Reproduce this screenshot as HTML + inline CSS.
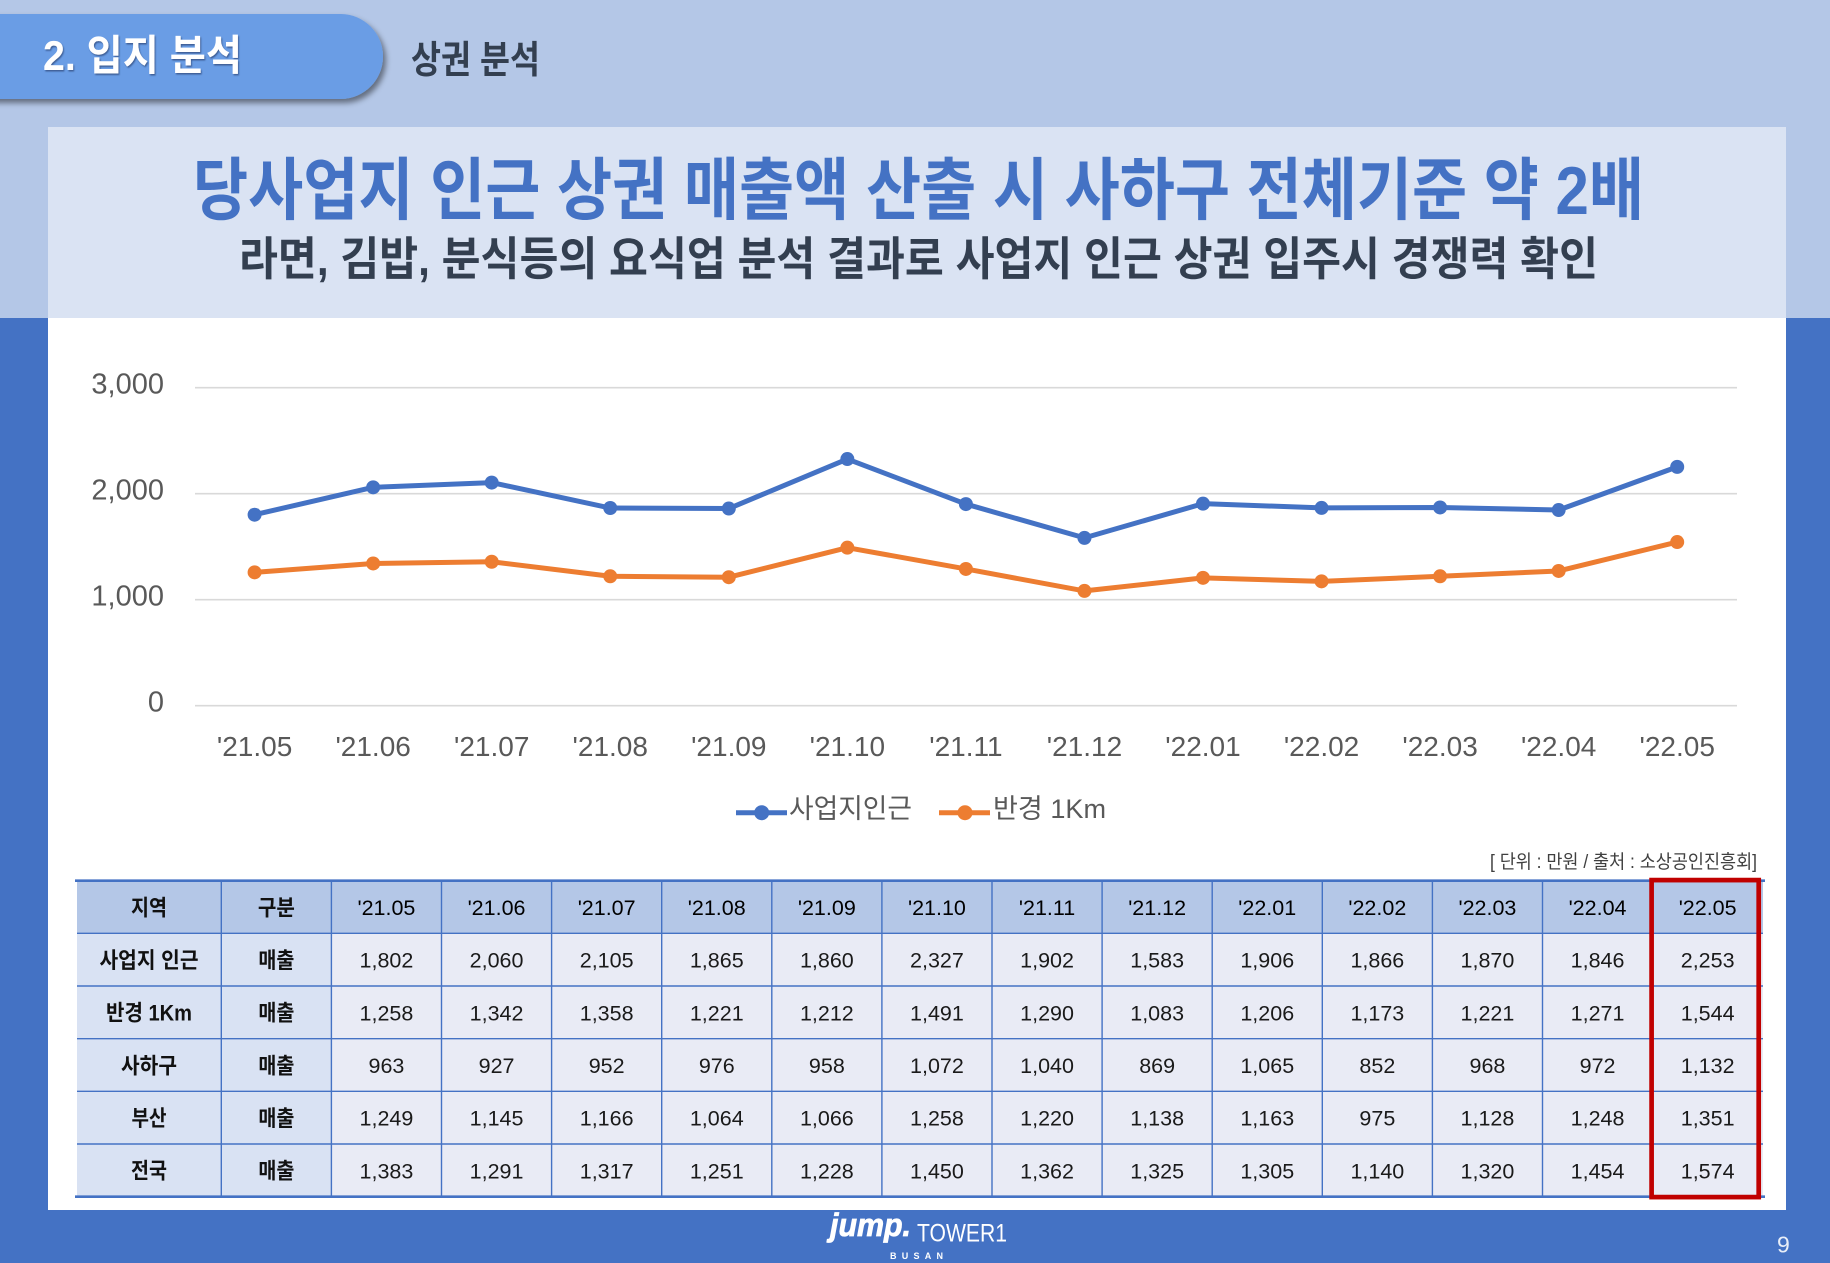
<!DOCTYPE html>
<html>
<head>
<meta charset="utf-8">
<style>
html,body{margin:0;padding:0;background:#4472c4;}
svg{display:block;}
</style>
</head>
<body>
<svg width="1830" height="1263" viewBox="0 0 1830 1263" xmlns="http://www.w3.org/2000/svg">
<defs>
<filter id="sh" x="-10%" y="-20%" width="130%" height="160%">
<feDropShadow dx="3" dy="4" stdDeviation="3" flood-color="#000" flood-opacity="0.45"/>
</filter>
<filter id="tsh" x="-5%" y="-20%" width="110%" height="150%">
<feDropShadow dx="1" dy="1.5" stdDeviation="0.8" flood-color="#203060" flood-opacity="0.6"/>
</filter>
</defs>
<!-- backgrounds -->
<rect x="0" y="0" width="1830" height="318" fill="#b4c7e7"/>
<rect x="0" y="318" width="1830" height="945" fill="#4472c4"/>
<rect x="48" y="127" width="1738" height="191" fill="#dae3f3"/>
<rect x="48" y="318" width="1738" height="892" fill="#ffffff"/>

<!-- pill -->
<path d="M-10 14 H341 A42.5 42.5 0 0 1 383 56.5 A42.5 42.5 0 0 1 341 99 H-10 Z" fill="#6a9de5" filter="url(#sh)"/>
<g font-family="'Liberation Sans','Noto Sans CJK KR',sans-serif" font-weight="bold">
<text x="43" y="70" font-size="42" fill="#ffffff" textLength="199" lengthAdjust="spacingAndGlyphs" filter="url(#tsh)">2. 입지 분석</text>
<text x="411" y="73" font-size="38" fill="#333f50" textLength="129" lengthAdjust="spacingAndGlyphs">상권 분석</text>
<text x="193" y="214" font-size="68" fill="#4472c4" textLength="1451" lengthAdjust="spacingAndGlyphs">당사업지 인근 상권 매출액 산출 시 사하구 전체기준 약 2배</text>
<text x="239" y="275" font-size="46" fill="#333f50" textLength="1359" lengthAdjust="spacingAndGlyphs">라면, 김밥, 분식등의 요식업 분석 결과로 사업지 인근 상권 입주시 경쟁력 확인</text>
</g>

<!-- chart gridlines -->
<g stroke="#d9d9d9" stroke-width="1.7">
<line x1="195" y1="387.7" x2="1737" y2="387.7"/>
<line x1="195" y1="493.7" x2="1737" y2="493.7"/>
<line x1="195" y1="599.7" x2="1737" y2="599.7"/>
<line x1="195" y1="705.7" x2="1737" y2="705.7"/>
</g>
<g font-family="'Liberation Sans',sans-serif" font-size="29" fill="#595959" text-anchor="end">
<text x="164" y="393.5">3,000</text>
<text x="164" y="499.5">2,000</text>
<text x="164" y="605.5">1,000</text>
<text x="164" y="711.5">0</text>
</g>
<g font-family="'Liberation Sans',sans-serif" font-size="28" fill="#595959" text-anchor="middle">
<text x="254.6" y="756">'21.05</text>
<text x="373.15" y="756">'21.06</text>
<text x="491.7" y="756">'21.07</text>
<text x="610.25" y="756">'21.08</text>
<text x="728.8" y="756">'21.09</text>
<text x="847.35" y="756">'21.10</text>
<text x="965.9" y="756">'21.11</text>
<text x="1084.45" y="756">'21.12</text>
<text x="1203" y="756">'22.01</text>
<text x="1321.55" y="756">'22.02</text>
<text x="1440.1" y="756">'22.03</text>
<text x="1558.65" y="756">'22.04</text>
<text x="1677.2" y="756">'22.05</text>
</g>

<!-- series -->
<polyline fill="none" stroke="#4472c4" stroke-width="5" stroke-linejoin="round" points="254.6,514.69 373.15,487.34 491.7,482.57 610.25,508.01 728.8,508.54 847.35,459.04 965.9,504.09 1084.45,537.9 1203,503.66 1321.55,507.9 1440.1,507.48 1558.65,510.02 1677.2,466.88"/>
<g fill="#4472c4">
<circle cx="254.6" cy="514.69" r="7"/><circle cx="373.15" cy="487.34" r="7"/><circle cx="491.7" cy="482.57" r="7"/><circle cx="610.25" cy="508.01" r="7"/><circle cx="728.8" cy="508.54" r="7"/><circle cx="847.35" cy="459.04" r="7"/><circle cx="965.9" cy="504.09" r="7"/><circle cx="1084.45" cy="537.9" r="7"/><circle cx="1203" cy="503.66" r="7"/><circle cx="1321.55" cy="507.9" r="7"/><circle cx="1440.1" cy="507.48" r="7"/><circle cx="1558.65" cy="510.02" r="7"/><circle cx="1677.2" cy="466.88" r="7"/>
</g>
<polyline fill="none" stroke="#ed7d31" stroke-width="5" stroke-linejoin="round" points="254.6,572.35 373.15,563.45 491.7,561.75 610.25,576.27 728.8,577.23 847.35,547.65 965.9,568.96 1084.45,590.9 1203,577.86 1321.55,581.36 1440.1,576.27 1558.65,570.97 1677.2,542.04"/>
<g fill="#ed7d31">
<circle cx="254.6" cy="572.35" r="7"/><circle cx="373.15" cy="563.45" r="7"/><circle cx="491.7" cy="561.75" r="7"/><circle cx="610.25" cy="576.27" r="7"/><circle cx="728.8" cy="577.23" r="7"/><circle cx="847.35" cy="547.65" r="7"/><circle cx="965.9" cy="568.96" r="7"/><circle cx="1084.45" cy="590.9" r="7"/><circle cx="1203" cy="577.86" r="7"/><circle cx="1321.55" cy="581.36" r="7"/><circle cx="1440.1" cy="576.27" r="7"/><circle cx="1558.65" cy="570.97" r="7"/><circle cx="1677.2" cy="542.04" r="7"/>
</g>

<!-- legend -->
<line x1="736" y1="812.7" x2="787" y2="812.7" stroke="#4472c4" stroke-width="5"/>
<circle cx="761.7" cy="812.7" r="7.5" fill="#4472c4"/>
<line x1="939" y1="812.7" x2="990" y2="812.7" stroke="#ed7d31" stroke-width="5"/>
<circle cx="965" cy="812.7" r="7.5" fill="#ed7d31"/>
<g font-family="'Liberation Sans','Noto Sans CJK KR',sans-serif" font-size="27" fill="#595959">
<text x="789" y="818" textLength="123" lengthAdjust="spacingAndGlyphs">사업지인근</text>
<text x="993" y="818" textLength="113" lengthAdjust="spacingAndGlyphs">반경 1Km</text>
</g>
<text x="1490" y="868" font-family="'Liberation Sans','Noto Sans CJK KR',sans-serif" font-size="19" fill="#404040" textLength="267" lengthAdjust="spacingAndGlyphs">[ 단위 : 만원 / 출처 : 소상공인진흥회]</text>

<!-- table backgrounds -->
<rect x="77" y="881" width="1686" height="52.3" fill="#b4c7e7"/>
<rect x="77" y="933.3" width="254.4" height="263.4" fill="#d9e2f3"/>
<rect x="331.4" y="933.3" width="1431.6" height="263.4" fill="#e9ebf5"/>
<g stroke="#4472c4" stroke-width="1.4">
<line x1="221.3" y1="881" x2="221.3" y2="1196.7"/>
<line x1="331.4" y1="881" x2="331.4" y2="1196.7"/>
<line x1="441.5" y1="881" x2="441.5" y2="1196.7"/>
<line x1="551.6" y1="881" x2="551.6" y2="1196.7"/>
<line x1="661.7" y1="881" x2="661.7" y2="1196.7"/>
<line x1="771.8" y1="881" x2="771.8" y2="1196.7"/>
<line x1="881.9" y1="881" x2="881.9" y2="1196.7"/>
<line x1="992" y1="881" x2="992" y2="1196.7"/>
<line x1="1102.1" y1="881" x2="1102.1" y2="1196.7"/>
<line x1="1212.2" y1="881" x2="1212.2" y2="1196.7"/>
<line x1="1322.3" y1="881" x2="1322.3" y2="1196.7"/>
<line x1="1432.4" y1="881" x2="1432.4" y2="1196.7"/>
<line x1="1542.5" y1="881" x2="1542.5" y2="1196.7"/>
<line x1="1652.6" y1="881" x2="1652.6" y2="1196.7"/>
<line x1="77" y1="933.3" x2="1763" y2="933.3"/>
<line x1="77" y1="986" x2="1763" y2="986"/>
<line x1="77" y1="1038.7" x2="1763" y2="1038.7"/>
<line x1="77" y1="1091.3" x2="1763" y2="1091.3"/>
<line x1="77" y1="1144" x2="1763" y2="1144"/>
</g>
<line x1="75" y1="880.7" x2="1765" y2="880.7" stroke="#4472c4" stroke-width="2.6"/>
<line x1="75" y1="1196.7" x2="1765" y2="1196.7" stroke="#4472c4" stroke-width="2.6"/>

<!-- table text: korean bold -->
<g font-family="'Liberation Sans','Noto Sans CJK KR',sans-serif" font-size="22" font-weight="bold" fill="#111" text-anchor="middle">
<text x="149" y="915.3" textLength="36" lengthAdjust="spacingAndGlyphs">지역</text>
<text x="276.4" y="915.3" textLength="37" lengthAdjust="spacingAndGlyphs">구분</text>
<text x="149" y="967.9" textLength="99" lengthAdjust="spacingAndGlyphs">사업지 인근</text>
<text x="149" y="1020.6" textLength="86" lengthAdjust="spacingAndGlyphs">반경 1Km</text>
<text x="149" y="1073.3" textLength="56" lengthAdjust="spacingAndGlyphs">사하구</text>
<text x="149" y="1125.9" textLength="35" lengthAdjust="spacingAndGlyphs">부산</text>
<text x="149" y="1178.6" textLength="36" lengthAdjust="spacingAndGlyphs">전국</text>
<text x="276.4" y="967.9" textLength="36" lengthAdjust="spacingAndGlyphs">매출</text>
<text x="276.4" y="1020.6" textLength="36" lengthAdjust="spacingAndGlyphs">매출</text>
<text x="276.4" y="1073.3" textLength="36" lengthAdjust="spacingAndGlyphs">매출</text>
<text x="276.4" y="1125.9" textLength="36" lengthAdjust="spacingAndGlyphs">매출</text>
<text x="276.4" y="1178.6" textLength="36" lengthAdjust="spacingAndGlyphs">매출</text>
</g>

<!-- table header numbers -->
<g font-family="'Liberation Sans',sans-serif" font-size="21.5" fill="#000" text-anchor="middle">
<text x="386.45" y="915">'21.05</text>
<text x="496.55" y="915">'21.06</text>
<text x="606.65" y="915">'21.07</text>
<text x="716.75" y="915">'21.08</text>
<text x="826.85" y="915">'21.09</text>
<text x="936.95" y="915">'21.10</text>
<text x="1047.05" y="915">'21.11</text>
<text x="1157.15" y="915">'21.12</text>
<text x="1267.25" y="915">'22.01</text>
<text x="1377.35" y="915">'22.02</text>
<text x="1487.45" y="915">'22.03</text>
<text x="1597.55" y="915">'22.04</text>
<text x="1707.65" y="915">'22.05</text>
</g>

<!-- table data -->
<g font-family="'Liberation Sans',sans-serif" font-size="21.5" fill="#1a1a1a" text-anchor="middle">
<text x="386.45" y="967.7">1,802</text><text x="496.55" y="967.7">2,060</text><text x="606.65" y="967.7">2,105</text><text x="716.75" y="967.7">1,865</text><text x="826.85" y="967.7">1,860</text><text x="936.95" y="967.7">2,327</text><text x="1047.05" y="967.7">1,902</text><text x="1157.15" y="967.7">1,583</text><text x="1267.25" y="967.7">1,906</text><text x="1377.35" y="967.7">1,866</text><text x="1487.45" y="967.7">1,870</text><text x="1597.55" y="967.7">1,846</text><text x="1707.65" y="967.7">2,253</text>
<text x="386.45" y="1020.4">1,258</text><text x="496.55" y="1020.4">1,342</text><text x="606.65" y="1020.4">1,358</text><text x="716.75" y="1020.4">1,221</text><text x="826.85" y="1020.4">1,212</text><text x="936.95" y="1020.4">1,491</text><text x="1047.05" y="1020.4">1,290</text><text x="1157.15" y="1020.4">1,083</text><text x="1267.25" y="1020.4">1,206</text><text x="1377.35" y="1020.4">1,173</text><text x="1487.45" y="1020.4">1,221</text><text x="1597.55" y="1020.4">1,271</text><text x="1707.65" y="1020.4">1,544</text>
<text x="386.45" y="1073.1">963</text><text x="496.55" y="1073.1">927</text><text x="606.65" y="1073.1">952</text><text x="716.75" y="1073.1">976</text><text x="826.85" y="1073.1">958</text><text x="936.95" y="1073.1">1,072</text><text x="1047.05" y="1073.1">1,040</text><text x="1157.15" y="1073.1">869</text><text x="1267.25" y="1073.1">1,065</text><text x="1377.35" y="1073.1">852</text><text x="1487.45" y="1073.1">968</text><text x="1597.55" y="1073.1">972</text><text x="1707.65" y="1073.1">1,132</text>
<text x="386.45" y="1125.7">1,249</text><text x="496.55" y="1125.7">1,145</text><text x="606.65" y="1125.7">1,166</text><text x="716.75" y="1125.7">1,064</text><text x="826.85" y="1125.7">1,066</text><text x="936.95" y="1125.7">1,258</text><text x="1047.05" y="1125.7">1,220</text><text x="1157.15" y="1125.7">1,138</text><text x="1267.25" y="1125.7">1,163</text><text x="1377.35" y="1125.7">975</text><text x="1487.45" y="1125.7">1,128</text><text x="1597.55" y="1125.7">1,248</text><text x="1707.65" y="1125.7">1,351</text>
<text x="386.45" y="1178.4">1,383</text><text x="496.55" y="1178.4">1,291</text><text x="606.65" y="1178.4">1,317</text><text x="716.75" y="1178.4">1,251</text><text x="826.85" y="1178.4">1,228</text><text x="936.95" y="1178.4">1,450</text><text x="1047.05" y="1178.4">1,362</text><text x="1157.15" y="1178.4">1,325</text><text x="1267.25" y="1178.4">1,305</text><text x="1377.35" y="1178.4">1,140</text><text x="1487.45" y="1178.4">1,320</text><text x="1597.55" y="1178.4">1,454</text><text x="1707.65" y="1178.4">1,574</text>
</g>

<!-- red highlight -->
<rect x="1651.6" y="880.1" width="107.1" height="317" fill="none" stroke="#c00000" stroke-width="4.7"/>

<!-- footer -->
<g font-family="'Liberation Sans',sans-serif" fill="#ffffff">
<text x="830" y="1236" font-size="32" font-weight="bold" font-style="italic" stroke="#ffffff" stroke-width="0.8" textLength="81" lengthAdjust="spacingAndGlyphs">jump.</text>
<text x="917" y="1241.7" font-size="25" textLength="90" lengthAdjust="spacingAndGlyphs">TOWER1</text>
<text x="890" y="1259" font-size="9" font-weight="bold" textLength="53" lengthAdjust="spacing">BUSAN</text>
<text x="1777" y="1252.7" font-size="23" fill="#e8eef8">9</text>
</g>
</svg>
</body>
</html>
